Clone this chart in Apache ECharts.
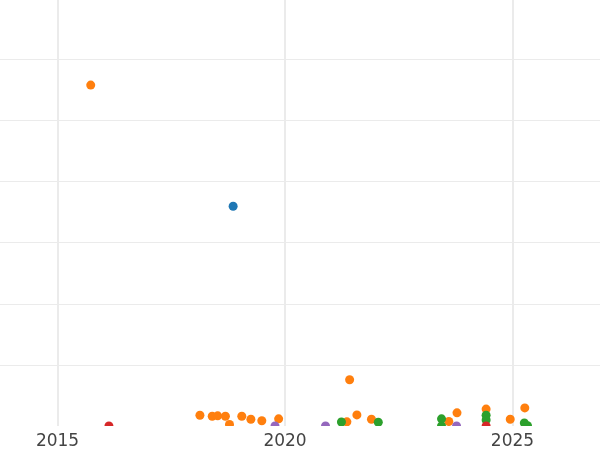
<!DOCTYPE html>
<html>
<head>
<meta charset="utf-8">
<script src="https://cdn.jsdelivr.net/npm/echarts@6/dist/echarts.min.js"></script>
<style>
  html, body { margin: 0; padding: 0; background: #fff; }
  #chart { width: 600px; height: 450px; }
</style>
</head>
<body>
<div id="chart"></div>
<script>
// x = decimal year, y = value
const yearTicks = [2015, 2020, 2025];

const blueX = [2018.86];
const blueY = [35.96];

const orangeX = [2015.73, 2018.13, 2018.40, 2018.52, 2018.69, 2018.78, 2019.05, 2019.25, 2019.49, 2019.86,
  2021.36, 2021.42, 2021.58, 2021.90, 2023.60, 2023.78, 2024.42, 2024.95, 2025.27];
const orangeY = [55.78, 1.76, 1.6, 1.66, 1.6, 0.24, 1.6, 1.1, 0.85, 1.17,
  0.68, 7.57, 1.82, 1.1, 0.73, 2.15, 2.77, 1.1, 2.96];

const greenX = [2021.24, 2022.05, 2023.44, 2023.44, 2024.42, 2024.42, 2025.26, 2025.33];
const greenY = [0.65, 0.62, 1.17, 0.0, 1.76, 0.98, 0.49, 0.05];

const redX = [2016.13, 2024.42];
const redY = [0, 0];

const purpleX = [2019.78, 2020.89, 2023.77];
const purpleY = [0, 0, 0];

function pairs(xs, ys) {
  return xs.map((x, i) => [x, ys[i]]);
}

const chart = echarts.init(document.getElementById('chart'));

const groups = [
  { name: 'blue', color: '#1f77b4', x: blueX, y: blueY },
  { name: 'orange', color: '#ff7f0e', x: orangeX, y: orangeY },
  { name: 'green', color: '#2ca02c', x: greenX, y: greenY },
  { name: 'red', color: '#d62728', x: redX, y: redY },
  { name: 'purple', color: '#9467bd', x: purpleX, y: purpleY },
];

// dots drawn as custom circles so the grid clips them (half dots at y = 0)
function dot(color) {
  return function (params, api) {
    const p = api.coord([api.value(0), api.value(1)]);
    return {
      type: 'circle',
      shape: { cx: p[0], cy: p[1], r: 4.5 },
      style: { fill: color },
    };
  };
}

const option = {
  animation: false,
  backgroundColor: '#fff',
  grid: {
    left: 0,
    right: 0,
    top: 0,
    bottom: 22,
  },
  xAxis: {
    type: 'value',
    min: 2013.736,
    max: 2026.923,
    axisLine: { show: false },
    axisTick: { show: false, customValues: yearTicks },
    axisLabel: {
      customValues: yearTicks,
      formatter: (v) => String(v),
      color: '#444',
      fontSize: 17,
      fontFamily: 'DejaVu Sans',
      margin: 7,
    },
    splitLine: {
      show: true,
      lineStyle: { color: '#ebebeb', width: 2 },
    },
  },
  yAxis: {
    type: 'value',
    min: 0,
    max: 69.7,
    interval: 10,
    axisLine: { show: false },
    axisTick: { show: false },
    axisLabel: { show: false },
    splitLine: {
      show: true,
      showMinLine: false,
      showMaxLine: false,
      lineStyle: { color: '#ebebeb', width: 1 },
    },
  },
  series: groups.map((g) => ({
    name: g.name,
    type: 'custom',
    clip: true,
    renderItem: dot(g.color),
    encode: { x: 0, y: 1 },
    data: pairs(g.x, g.y),
  })),
};

chart.setOption(option);
window.addEventListener('resize', () => {
  chart.resize();
});
</script>
</body>
</html>
